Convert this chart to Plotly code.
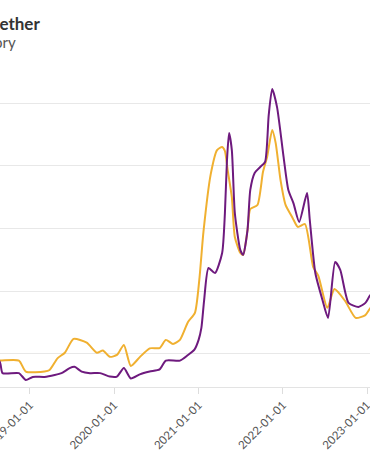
import plotly.graph_objects as go

title_text = "Bitcoin and Ether move together"
subtitle_text = "Normalized price history"

orange_dates = [
    "2018-06-01", "2018-08-22", "2018-11-14", "2018-12-14", "2019-03-05", "2019-03-27",
    "2019-05-01", "2019-06-01", "2019-07-09", "2019-09-04", "2019-10-18", "2019-11-13",
    "2019-12-13", "2020-01-13", "2020-02-12", "2020-03-13", "2020-04-21", "2020-06-03",
    "2020-07-16", "2020-08-12", "2020-09-12", "2020-10-12", "2020-11-16", "2020-12-16",
    "2021-01-04", "2021-01-22", "2021-02-22", "2021-03-22", "2021-04-13", "2021-04-25",
    "2021-05-07", "2021-05-25", "2021-06-07", "2021-07-01", "2021-07-13", "2021-08-01",
    "2021-08-13", "2021-09-13", "2021-10-07", "2021-10-25", "2021-11-16", "2021-12-01",
    "2021-12-22", "2022-01-13", "2022-02-13", "2022-03-07", "2022-04-07", "2022-05-13",
    "2022-06-04", "2022-07-13", "2022-08-13", "2022-09-28", "2022-11-13", "2022-12-25",
    "2023-01-16", "2023-03-20",
]
orange_values = [
    18.1, 17.9, 17.9, 14.4, 14.4, 14.9,
    18.7, 20.4, 24.8, 23.6, 20.4, 21.1,
    19.1, 19.7, 22.9, 16.2, 19.0, 21.8,
    21.9, 24.5, 23.2, 24.5, 30.2, 33.1,
    43.6, 58.9, 77.1, 85.0, 86.0, 84.7,
    78.6, 70.0, 57.3, 52.2, 51.6, 59.5,
    66.2, 67.5, 78.0, 82.8, 91.4, 87.3,
    75.5, 67.5, 63.3, 60.5, 61.4, 47.7,
    44.9, 34.7, 40.7, 36.9, 31.5, 32.4,
    34.7, 38.8,
]

purple_dates = [
    "2018-06-01", "2018-08-22", "2018-09-04", "2018-11-14", "2018-12-14", "2019-01-13",
    "2019-03-05", "2019-04-18", "2019-05-18", "2019-06-22", "2019-07-13", "2019-08-13",
    "2019-09-18", "2019-11-01", "2019-12-13", "2020-01-13", "2020-02-12", "2020-03-13",
    "2020-04-21", "2020-06-03", "2020-07-16", "2020-08-12", "2020-10-12", "2020-11-16",
    "2020-12-13", "2021-01-01", "2021-01-13", "2021-01-25", "2021-02-13", "2021-03-13",
    "2021-04-13", "2021-04-25", "2021-05-04", "2021-05-13", "2021-05-25", "2021-06-07",
    "2021-07-01", "2021-07-13", "2021-08-01", "2021-08-13", "2021-09-01", "2021-09-25",
    "2021-10-16", "2021-11-01", "2021-11-16", "2021-12-07", "2022-01-04", "2022-01-25",
    "2022-02-16", "2022-03-13", "2022-04-16", "2022-04-28", "2022-05-22", "2022-06-22",
    "2022-07-16", "2022-08-16", "2022-09-07", "2022-10-13", "2022-11-25", "2022-12-25",
    "2023-01-16", "2023-03-20",
]
purple_values = [
    18.7, 17.6, 13.9, 13.9, 11.7, 12.7,
    12.7, 13.3, 13.9, 15.5, 15.9, 14.4,
    13.9, 13.9, 12.8, 12.8, 15.5, 12.2,
    13.5, 14.4, 15.1, 17.9, 17.9, 19.7,
    21.3, 24.5, 28.3, 37.2, 47.4, 45.8,
    52.2, 64.9, 81.8, 90.4, 85.0, 64.9,
    53.1, 51.6, 59.5, 72.3, 77.7, 79.6,
    81.2, 96.2, 104.5, 98.7, 83.0, 72.3,
    68.1, 62.1, 71.3, 62.7, 45.8, 37.2,
    31.5, 49.3, 46.8, 36.3, 35.0, 36.3,
    38.8, 42.0,
]

tick_dates = ["2019-01-01", "2020-01-01", "2021-01-01", "2022-01-01", "2023-01-01"]

ORANGE = "#F0B030"
PURPLE = "#6E1A7E"

fig = go.Figure()
fig.add_trace(go.Scatter(
    x=orange_dates, y=orange_values, mode="lines",
    line=dict(color=ORANGE, width=2, shape="spline", smoothing=0.6),
    showlegend=False, hoverinfo="skip",
))
fig.add_trace(go.Scatter(
    x=purple_dates, y=purple_values, mode="lines",
    line=dict(color=PURPLE, width=2, shape="spline", smoothing=0.6),
    showlegend=False, hoverinfo="skip",
))

fig.update_layout(
    width=370, height=450,
    margin=dict(l=0, r=0, t=80, b=63, autoexpand=False),
    paper_bgcolor="white", plot_bgcolor="white",
    font=dict(family="Lato, sans-serif", color="#555555", size=11.5),
    xaxis=dict(
        range=["2018-08-24", "2023-01-14"],
        tickvals=tick_dates, ticktext=tick_dates,
        tickangle=-45, ticks="outside", ticklen=6, tickcolor="#dddddd",
        ticklabeloverflow="allow", automargin=False,
        showgrid=False, showline=True, linecolor="#e3e3e3", linewidth=1,
        tickfont=dict(size=11.5, color="#555555"), zeroline=False,
    ),
    yaxis=dict(
        range=[9.48, 107.33],
        tickvals=[20, 40, 60, 80, 100],
        showticklabels=False, showgrid=True, gridcolor="#e8e8e8", gridwidth=1,
        zeroline=False, showline=False, automargin=False,
    ),
    annotations=[
        dict(text="<b>" + title_text + "</b>", xref="paper", yref="paper",
             x=42 / 370, y=1, yshift=57, xanchor="right", yanchor="middle",
             showarrow=False, font=dict(size=17, color="#333333", family="Lato, sans-serif")),
        dict(text=subtitle_text, xref="paper", yref="paper",
             x=18 / 370, y=1, yshift=38, xanchor="right", yanchor="middle",
             showarrow=False, font=dict(size=15, color="#555555", family="Lato, sans-serif")),
    ],
)

fig.write_html(
    "out.html",
    config={"displayModeBar": False},
    post_script="document.body.style.margin='0';document.body.style.overflow='hidden';",
)
